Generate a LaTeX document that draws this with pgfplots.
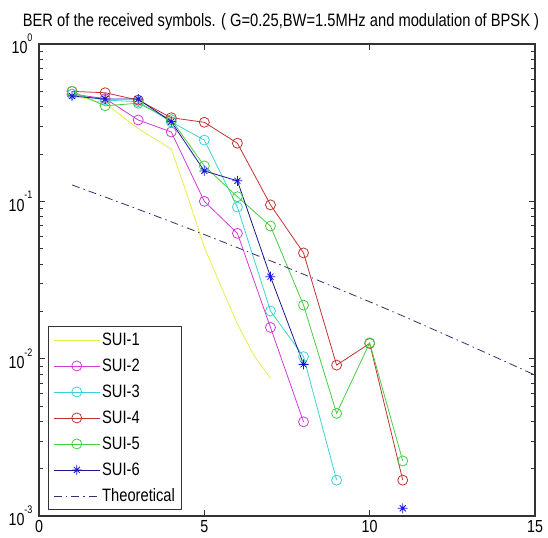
\documentclass[border=0pt]{standalone}
\usepackage{pgfplots}
\pgfplotsset{compat=1.18}
\usepackage{fontspec}
\setmainfont{Liberation Sans}[FakeStretch=0.82]
\definecolor{cY}{RGB}{235,235,70}
\definecolor{cM}{RGB}{210,60,210}
\definecolor{cC}{RGB}{60,210,215}
\definecolor{cR}{RGB}{195,50,50}
\definecolor{cG}{RGB}{70,205,70}
\definecolor{cB}{RGB}{25,25,140}
\definecolor{cBm}{RGB}{20,20,220}
\definecolor{cT}{RGB}{50,50,110}
\pgfdeclareplotmark{mstar}{%
  \pgfpathmoveto{\pgfqpoint{-\pgfplotmarksize}{0pt}}\pgfpathlineto{\pgfqpoint{\pgfplotmarksize}{0pt}}%
  \pgfpathmoveto{\pgfqpoint{0pt}{-\pgfplotmarksize}}\pgfpathlineto{\pgfqpoint{0pt}{\pgfplotmarksize}}%
  \pgfpathmoveto{\pgfqpoint{-0.6\pgfplotmarksize}{-0.6\pgfplotmarksize}}\pgfpathlineto{\pgfqpoint{0.6\pgfplotmarksize}{0.6\pgfplotmarksize}}%
  \pgfpathmoveto{\pgfqpoint{-0.6\pgfplotmarksize}{0.6\pgfplotmarksize}}\pgfpathlineto{\pgfqpoint{0.6\pgfplotmarksize}{-0.6\pgfplotmarksize}}%
  \pgfusepathqstroke}
\newcommand{\ex}[1]{10\raisebox{0.7em}{\fontsize{11}{11}\selectfont #1}}
\begin{document}
\begin{tikzpicture}
\useasboundingbox (0bp,0bp) rectangle (548bp,538bp);
\begin{axis}[
  at={(39bp,22bp)}, anchor=south west,
  scale only axis, width=496bp, height=472bp,
  ymode=log, xmin=0, xmax=15, ymin=1e-3, ymax=1,
  xtick={0,5,10,15},
  ytick={1e-3,1e-2,1e-1,1},
  yticklabels={\ex{-3},\ex{-2},\ex{-1},\ex{0}},
  minor ytick={2e-3,3e-3,4e-3,5e-3,6e-3,7e-3,8e-3,9e-3,2e-2,3e-2,4e-2,5e-2,6e-2,7e-2,8e-2,9e-2,2e-1,3e-1,4e-1,5e-1,6e-1,7e-1,8e-1,9e-1},
  tick align=inside,
  major tick length=6bp, minor tick length=4bp,
  every tick/.style={black!80, line width=0.7bp},
  axis line style={black!80, line width=1.1bp},
  tick label style={font=\fontsize{17.5}{18}\selectfont},
  xticklabel style={yshift=-1bp},
  yticklabel style={xshift=-3bp},
  /pgf/number format/assume math mode=true,
  unbounded coords=jump,
  legend cell align=left,
  legend style={at={(0.018,0.013)}, anchor=south west, draw=black!80, line width=0.9bp,
    font=\fontsize{18}{18}\selectfont, row sep=8bp, inner xsep=5bp, inner ysep=4bp},
  legend image code/.code={\draw[mark repeat=2,mark phase=2,#1] plot coordinates {(0bp,0bp) (23bp,0bp) (46bp,0bp)};},
  every axis plot/.append style={line width=0.8bp},
]
\addplot[cY, no markers] coordinates {(1,0.47)(2,0.42)(3,0.29)(4,0.215)(4.5,0.107)(5,0.051)(5.5,0.029)(6,0.0166)(6.5,0.0105)(7,0.0075)};
\addlegendentry{SUI-1}
\addplot[cM, mark=o, mark size=5bp] coordinates {(1,0.48)(2,0.45)(3,0.329)(4,0.276)(5,0.100)(6,0.0626)(7,0.0158)(8,0.00397)};
\addlegendentry{SUI-2}
\addplot[cC, mark=o, mark size=5bp] coordinates {(1,0.48)(2,0.44)(3,0.43)(4,0.32)(5,0.245)(6,0.092)(7,0.0201)(8,0.0103)(9,0.00169)};
\addlegendentry{SUI-3}
\addplot[cR, mark=o, mark size=5bp] coordinates {(1,0.5)(2,0.49)(3,0.44)(4,0.34)(5,0.318)(6,0.234)(7,0.095)(8,0.047)(9,0.0091)(10,0.0125)(11,0.00169)};
\addlegendentry{SUI-4}
\addplot[cG, mark=o, mark size=5bp] coordinates {(1,0.5)(2,0.405)(3,0.42)(4,0.33)(5,0.168)(6,0.107)(7,0.0697)(8,0.0219)(9,0.00449)(10,0.0126)(11,0.00224)};
\addlegendentry{SUI-5}
\addplot[cB, mark=mstar, mark size=5bp, mark options={cBm}] coordinates {(1,0.467)(2,0.447)(3,0.447)(4,0.321)(5,0.156)(6,0.135)(7,0.0332)(8,0.0092)(9,nan)(10,nan)(11,0.00112)};
\addlegendentry{SUI-6}
\addplot[cT, no markers, dash pattern=on 8bp off 4bp on 1.5bp off 4bp] coordinates {(1,0.1271)(2,0.1065)(3,0.0890)(4,0.0741)(5,0.0615)(6,0.0508)(7,0.0419)(8,0.0344)(9,0.0281)(10,0.0230)(11,0.0187)(12,0.0151)(13,0.0122)(14,0.0098)(15,0.00787)};
\addlegendentry{Theoretical}
\end{axis}
\node[font=\fontsize{18}{18}\selectfont, inner sep=0pt] at (281bp,516bp) {BER of the received symbols. ( G=0.25,BW=1.5MHz and modulation of BPSK )};
\end{tikzpicture}
\end{document}
